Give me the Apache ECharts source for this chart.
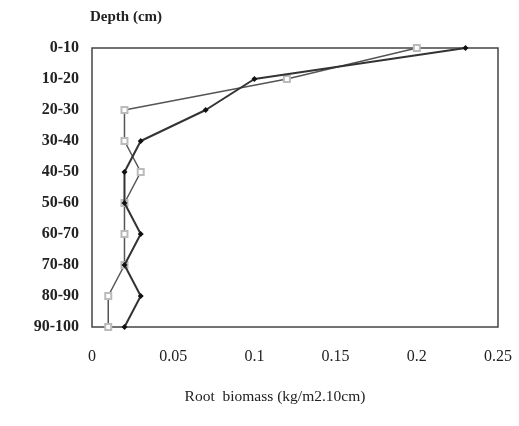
<!DOCTYPE html>
<html><head><meta charset="utf-8">
<script src="https://cdn.jsdelivr.net/npm/echarts@6/dist/echarts.min.js"></script>
<style>html,body{margin:0;padding:0;background:#fff}#c{width:519px;height:426px}</style>
</head><body><div id="c"></div>
<script>
const depths = ['0-10','10-20','20-30','30-40','40-50','50-60','60-70','70-80','80-90','90-100'];
const filledSeries = [0.23,0.10,0.07,0.03,0.02,0.02,0.03,0.02,0.03,0.02];
const openSeries = [0.20,0.12,0.02,0.02,0.03,0.02,0.02,0.02,0.01,0.01];
const xTicks = [0,0.05,0.1,0.15,0.2,0.25];

const chart = echarts.init(document.getElementById('c'));
const font = '"Liberation Serif","DejaVu Serif",serif';
chart.setOption({
  animation:false,
  backgroundColor:'#fff',
  grid:{left:92,right:21,top:48,bottom:99,show:true,borderColor:'#444',borderWidth:1.5,backgroundColor:'transparent'},
  xAxis:{type:'value',min:xTicks[0],max:xTicks[xTicks.length-1],interval:0.05,
    axisLine:{show:false},axisTick:{show:false},splitLine:{show:false},
    axisLabel:{color:'#222',fontFamily:font,fontSize:16,margin:22,formatter:v=>String(+v.toFixed(2))},
    name:'Root  biomass (kg/m2.10cm)',nameLocation:'middle',nameGap:62,
    nameTextStyle:{color:'#222',fontFamily:font,fontSize:15.5,padding:[0,0,0,-40]}},
  yAxis:{type:'category',data:depths,inverse:true,boundaryGap:false,
    axisLine:{show:false},axisTick:{show:false},splitLine:{show:false},
    axisLabel:{color:'#222',fontFamily:font,fontSize:16,fontWeight:'bold',margin:13,padding:[3,0,0,0]},
    name:'Depth (cm)',nameLocation:'start',nameGap:23,
    nameTextStyle:{color:'#222',fontFamily:font,fontSize:15,fontWeight:'bold',align:'left',padding:[0,0,0,-2]}},
  series:[
    {type:'line',data:openSeries.map((v,i)=>[v,depths[i]]),symbol:'emptyRect',symbolSize:6,
     lineStyle:{color:'#555',width:1.5},itemStyle:{color:'#bbb',borderColor:'#bbb',borderWidth:1},z:2},
    {type:'line',data:filledSeries.map((v,i)=>[v,depths[i]]),symbol:'diamond',symbolSize:6,
     lineStyle:{color:'#333',width:2},itemStyle:{color:'#111'},z:3}
  ]
});
</script></body></html>
